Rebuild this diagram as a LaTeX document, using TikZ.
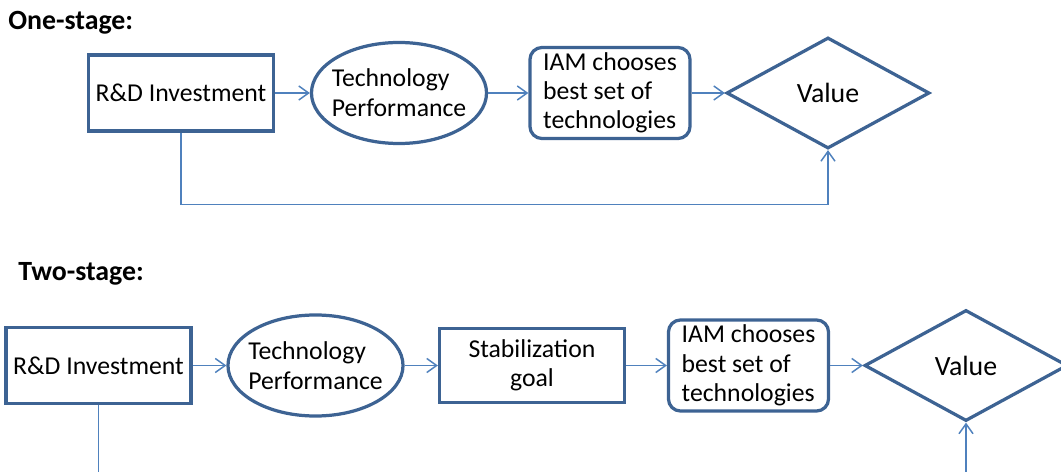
\documentclass[tikz,border=0pt]{standalone}
\usepackage{fontspec}
\setmainfont{Carlito}
\usepackage{tikz}
\usetikzlibrary{shapes.geometric, arrows.meta}
\definecolor{shapeblue}{HTML}{3D6393}
\definecolor{linkblue}{HTML}{4F81BD}
\tikzset{
  every node/.style={font=\fontsize{18.3}{20.8}\selectfont, inner sep=0pt},
  box/.style={draw=shapeblue, line width=2.3pt, rectangle, minimum width=4.625cm, minimum height=1.9cm},
  perf/.style={draw=shapeblue, line width=2.3pt, ellipse, inner xsep=-5pt, minimum width=4.375cm, minimum height=2.525cm, align=left, font=\fontsize{18.3}{21.3}\selectfont},
  iam/.style={draw=shapeblue, line width=2.3pt, rectangle, rounded corners=0.3cm, minimum width=4cm, minimum height=2.275cm, align=left},
  val/.style={draw=shapeblue, line width=2.3pt, diamond, aspect=1.83, minimum width=5.075cm, minimum height=2.775cm, font=\fontsize{19.8}{22}\selectfont},
  stage/.style={anchor=west, font=\fontsize{19.8}{22}\selectfont\bfseries},
  link/.style={draw=linkblue, line width=1.05pt, -{Straight Barb[length=7pt, width=10pt]}}
}
\begin{document}
\begin{tikzpicture}[x=0.025cm, y=-0.025cm]
  \path [use as bounding box, clip] (0,0) rectangle (1061,472); % page frame
  % one-stage row
  \node [stage] (one) at (8,23) {One-stage:};                      % row title
  \node [box] (rd1) at (181,93) {R\&D Investment};                 % investment
  \node [perf] (tp1) at (399,93) {Technology\\Performance};        % performance
  \node [iam] (iam1) at (610,93) {IAM chooses\\best set of\\technologies};
  \node [val] (val1) at (828,93) {Value};                          % value
  \draw [link] (rd1) -- (tp1);
  \draw [link] (tp1) -- (iam1);
  \draw [link] (iam1) -- (val1);
  \draw [link] (rd1.south) -- ++(0,72) -| (val1.south);            % direct path
  % two-stage row
  \node [stage] (two) at (18,274) {Two-stage:};                    % row title
  \node [box] (rd2) at (98.5,365.5) {R\&D Investment};             % investment
  \node [perf] (tp2) at (315.5,365.5) {Technology\\Performance};   % performance
  \node [box, minimum height=1.85cm, align=center] (stab) at (532,365.5) {Stabilization\\goal};
  \node [iam] (iam2) at (748.5,365.5) {IAM chooses\\best set of\\technologies};
  \node [val] (val2) at (966,365.5) {Value};                       % value
  \draw [link] (rd2) -- (tp2);
  \draw [link] (tp2) -- (stab);
  \draw [link] (stab) -- (iam2);
  \draw [link] (iam2) -- (val2);
  \draw [link] (rd2.south) -- ++(0,130) -| (val2.south);           % direct path
\end{tikzpicture}
\end{document}
